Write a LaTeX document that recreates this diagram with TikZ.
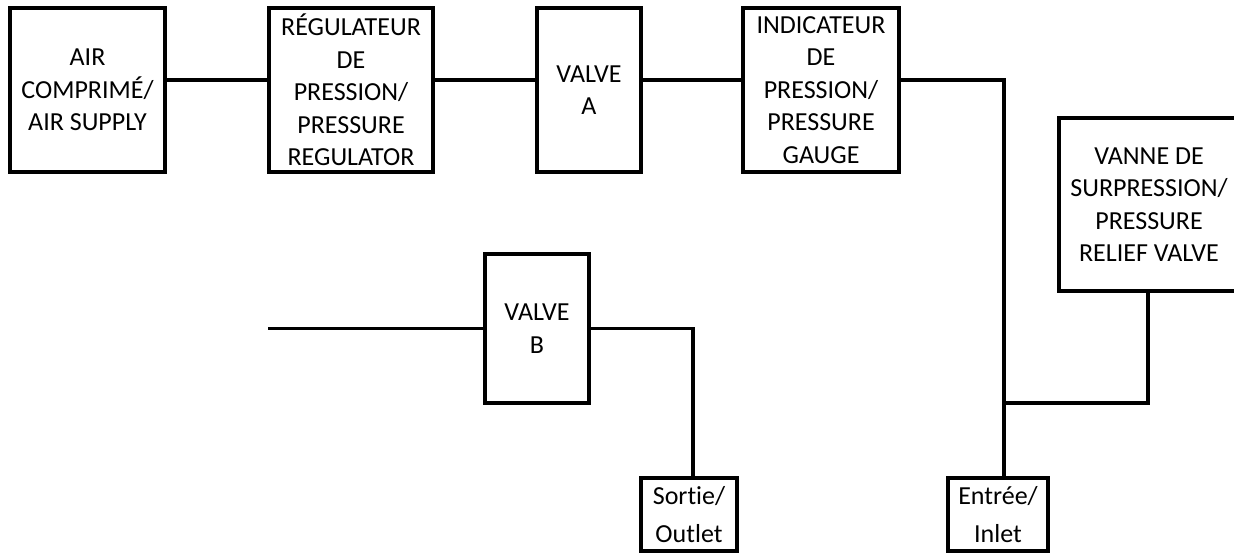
\documentclass[tikz,border=0pt]{standalone}
\usepackage{fontspec}
\setmainfont{Carlito}[Ligatures=NoCommon]
\begin{document}
\begin{tikzpicture}[x=1pt,y=1pt,
  box/.style={draw, line width=3.1pt, inner sep=0pt, align=center,
    font=\fontsize{26}{32.5}\selectfont},
  portbox/.style={box, font=\fontsize{26}{38}\selectfont},
  pipe/.style={line width=3.1pt}]
\useasboundingbox (0,0) rectangle (1234,552);

% top row of components
\node[box, minimum width=155pt, minimum height=164pt] (air) at (87.5,462)
  {AIR\\COMPRIMÉ/\\AIR SUPPLY};
\node[box, minimum width=164pt, minimum height=164pt] (reg) at (351,462)
  {RÉGULATEUR\\DE\\PRESSION/\\PRESSURE\\REGULATOR};
\node[box, minimum width=104pt, minimum height=164pt] (valveA) at (589,462)
  {VALVE\\A};
\node[box, minimum width=156pt, minimum height=164pt] (gauge) at (821,462)
  {INDICATEUR\\DE\\PRESSION/\\PRESSURE\\GAUGE};

% relief valve, running off the right edge
\node[box, minimum width=180pt, minimum height=173pt] (relief) at (1149,347.5)
  {VANNE DE\\SURPRESSION/\\PRESSURE\\RELIEF VALVE};

% lower components
\node[box, minimum width=104pt, minimum height=149pt] (valveB) at (537,223.5)
  {VALVE\\B};
\node[portbox, minimum width=96pt, minimum height=73pt] (outlet) at (689,37.5)
  {Sortie/\\Outlet};
\node[portbox, minimum width=100pt, minimum height=73pt] (inlet) at (998,37.5)
  {Entrée/\\Inlet};

% bends and junctions of the piping
\coordinate (g1) at (1004,472);
\coordinate (j) at (1004,149);
\coordinate (r1) at (1148,149);
\coordinate (bin) at (268,223.5);
\coordinate (b1) at (693,223.5);

% piping
\draw[pipe] ([yshift=10pt]air.east) -- ([yshift=10pt]reg.west);
\draw[pipe] ([yshift=10pt]reg.east) -- ([yshift=10pt]valveA.west);
\draw[pipe] ([yshift=10pt]valveA.east) -- ([yshift=10pt]gauge.west);
\draw[pipe] ([yshift=10pt]gauge.east) -- (g1) -- (g1 |- inlet.north);
\draw[pipe] (j) -- (r1) -- (r1 |- relief.south);
\draw[pipe] (bin) -- (valveB.west);
\draw[pipe] (valveB.east) -- (b1) -- (b1 |- outlet.north);
\end{tikzpicture}
\end{document}
